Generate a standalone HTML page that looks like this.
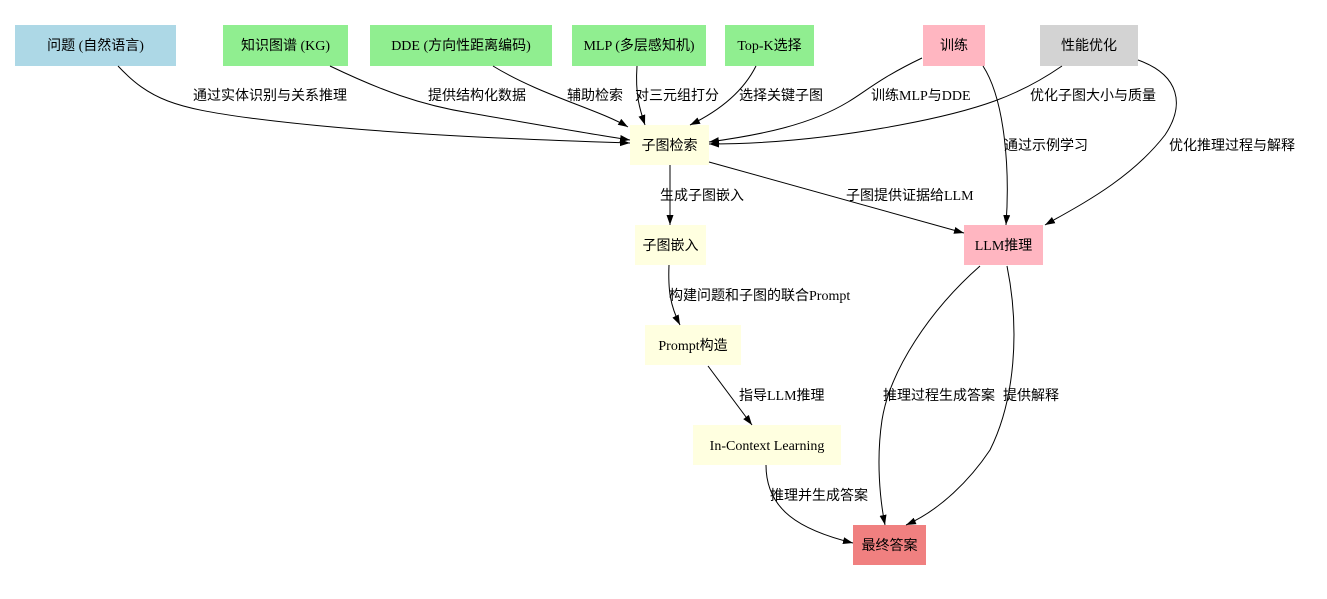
<!DOCTYPE html>
<html><head><meta charset="utf-8"><style>
html,body{margin:0;padding:0;background:#fff;}
svg{display:block;}
text{font-family:"Liberation Serif","Noto Sans CJK SC",serif;font-size:14px;fill:#000;}
.e{fill:none;stroke:#000;stroke-width:1;}
</style></head><body>
<svg width="1327" height="599" viewBox="0 0 1327 599" xmlns="http://www.w3.org/2000/svg">
<defs><marker id="a" viewBox="0 0 10 10" refX="10" refY="5" markerWidth="10" markerHeight="10" markerUnits="userSpaceOnUse" orient="auto"><path d="M0,1.5 L10,5 L0,8.5 z" fill="#000"/></marker></defs>
<!-- nodes -->
<rect x="15" y="25" width="161" height="41" fill="#add8e6"/>
<text x="95.5" y="50" text-anchor="middle">问题 (自然语言)</text>
<rect x="223" y="25" width="125" height="41" fill="#90ee90"/>
<text x="285.5" y="50" text-anchor="middle">知识图谱 (KG)</text>
<rect x="370" y="25" width="182" height="41" fill="#90ee90"/>
<text x="461" y="50" text-anchor="middle">DDE (方向性距离编码)</text>
<rect x="572" y="25" width="134" height="41" fill="#90ee90"/>
<text x="639" y="50" text-anchor="middle">MLP (多层感知机)</text>
<rect x="725" y="25" width="89" height="41" fill="#90ee90"/>
<text x="769.5" y="50" text-anchor="middle">Top-K选择</text>
<rect x="923" y="25" width="62" height="41" fill="#ffb6c1"/>
<text x="954" y="50" text-anchor="middle">训练</text>
<rect x="1040" y="25" width="98" height="41" fill="#d3d3d3"/>
<text x="1089" y="50" text-anchor="middle">性能优化</text>
<rect x="630" y="125" width="79" height="40" fill="#ffffe0"/>
<text x="669.5" y="150" text-anchor="middle">子图检索</text>
<rect x="635" y="225" width="71" height="40" fill="#ffffe0"/>
<text x="670.5" y="250" text-anchor="middle">子图嵌入</text>
<rect x="645" y="325" width="96" height="40" fill="#ffffe0"/>
<text x="693" y="350" text-anchor="middle">Prompt构造</text>
<rect x="693" y="425" width="148" height="40" fill="#ffffe0"/>
<text x="767" y="450" text-anchor="middle">In-Context Learning</text>
<rect x="964" y="225" width="79" height="40" fill="#ffb6c1"/>
<text x="1003.5" y="250" text-anchor="middle">LLM推理</text>
<rect x="853" y="525" width="73" height="40" fill="#f08080"/>
<text x="889.5" y="550" text-anchor="middle">最终答案</text>
<!-- edges -->
<path class="e" marker-end="url(#a)" d="M118,66 C150,100 175,108 250,118 C380,135 540,140 630,143"/>
<path class="e" marker-end="url(#a)" d="M330,66 C380,90 420,105 470,113 C540,125 590,134 630,140"/>
<path class="e" marker-end="url(#a)" d="M493,66 C540,95 600,110 628,127"/>
<path class="e" marker-end="url(#a)" d="M637,66 C635,95 640,110 645,125"/>
<path class="e" marker-end="url(#a)" d="M756,66 C745,88 725,108 690,125"/>
<path class="e" marker-end="url(#a)" d="M922,58 C880,78 865,92 848,102 C810,125 760,135 709,142"/>
<path class="e" marker-end="url(#a)" d="M1062,66 C1020,95 980,110 900,125 C820,140 760,144 709,144"/>
<path class="e" marker-end="url(#a)" d="M983,66 C1005,100 1010,170 1006,225"/>
<path class="e" marker-end="url(#a)" d="M1138,60 C1180,75 1185,105 1165,135 C1130,180 1080,205 1045,225"/>
<path class="e" marker-end="url(#a)" d="M709,162 L964,233"/>
<path class="e" marker-end="url(#a)" d="M670,165 L670,225"/>
<path class="e" marker-end="url(#a)" d="M669,265 C668,290 670,305 680,325"/>
<path class="e" marker-end="url(#a)" d="M708,366 L752,425"/>
<path class="e" marker-end="url(#a)" d="M766,465 C766,510 800,530 853,543"/>
<path class="e" marker-end="url(#a)" d="M980,266 C930,310 890,370 882,420 C876,460 880,500 885,525"/>
<path class="e" marker-end="url(#a)" d="M1007,266 C1020,330 1015,400 990,450 C970,480 940,510 906,525"/>
<!-- labels -->
<text x="193" y="100">通过实体识别与关系推理</text>
<text x="428" y="100">提供结构化数据</text>
<text x="567" y="100">辅助检索</text>
<text x="635" y="100">对三元组打分</text>
<text x="739" y="100">选择关键子图</text>
<text x="871" y="100">训练MLP与DDE</text>
<text x="1030" y="100">优化子图大小与质量</text>
<text x="1004" y="150">通过示例学习</text>
<text x="1169" y="150">优化推理过程与解释</text>
<text x="660" y="200">生成子图嵌入</text>
<text x="846" y="200">子图提供证据给LLM</text>
<text x="669" y="300">构建问题和子图的联合Prompt</text>
<text x="739" y="400">指导LLM推理</text>
<text x="883" y="400">推理过程生成答案</text>
<text x="1003" y="400">提供解释</text>
<text x="770" y="500">推理并生成答案</text>
</svg>
</body></html>
